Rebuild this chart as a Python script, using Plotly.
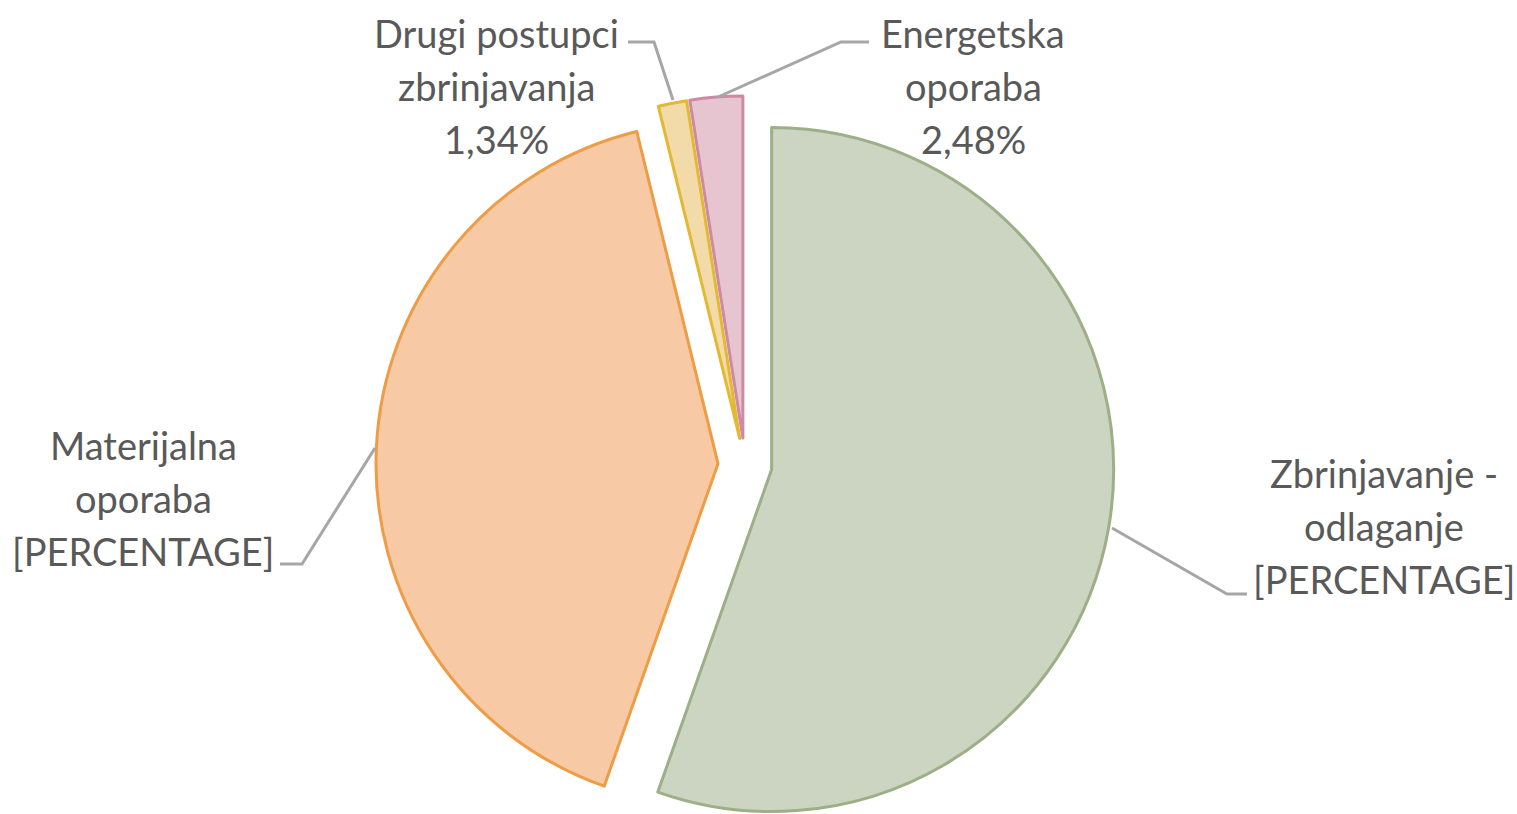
import math
import plotly.graph_objects as go

# ---- data ----
categories = ["Zbrinjavanje - odlaganje", "Materijalna oporaba",
              "Drugi postupci zbrinjavanja", "Energetska oporaba"]
shares = [55.40, 40.78, 1.34, 2.48]
name_lines = [["Zbrinjavanje -", "odlaganje"],
              ["Materijalna", "oporaba"],
              ["Drugi postupci", "zbrinjavanja"],
              ["Energetska", "oporaba"]]
value_labels = ["[PERCENTAGE]", "[PERCENTAGE]",
                f"{shares[2]:.2f}".replace(".", ",") + "%",
                f"{shares[3]:.2f}".replace(".", ",") + "%"]

# ---- style ----
fill_colors = ["#CBD5C1", "#F7CAA5", "#F2DBA8", "#E6C5D1"]
line_colors = ["#9CAF86", "#EE9C45", "#E3B832", "#CC8AA3"]
TEXT_COLOR = "#595959"
LEADER_COLOR = "#A6A6A6"
FONT = "Lato"
FONT_SIZE = 38
LINE_GAP = 53          # px between label lines

W, H = 1517, 814
CX, CY = 745, 465      # pie centre (px, from top-left)
R = 342                # radius px
PULL = 0.079           # explosion as fraction of radius

# label block centres (px, middle line) and leader-line paths (px)
label_pos = [(1384, 526), (143, 498), (497, 86), (973, 86)]
leaders = [
    [(1247, 594), (1227, 594), (1112, 528)],
    [(280, 564), (302, 564), (375, 448)],
    [(628, 42), (654, 42), (673, 100)],
    [(869, 42), (841, 42), (718, 97)],
]


def px(x, y):
    return x / W, 1 - y / H


fig = go.Figure()
total = sum(shares)
cum = 0.0
n = len(shares)
for k, v in enumerate(shares):
    mid = (cum + v / 2) / total * 2 * math.pi
    cum += v
    cx = CX + PULL * R * math.sin(mid)
    cy = CY - PULL * R * math.cos(mid)
    fig.add_trace(go.Pie(
        values=shares,
        labels=categories,
        sort=False,
        direction="clockwise",
        rotation=0,
        textinfo="none",
        showlegend=False,
        hoverinfo="label+percent",
        marker=dict(
            colors=[fill_colors[i] if i == k else "rgba(0,0,0,0)" for i in range(n)],
            line=dict(color=[line_colors[i] if i == k else "rgba(0,0,0,0)" for i in range(n)],
                      width=[3 if i == k else 0 for i in range(n)]),
        ),
        domain=dict(x=[(cx - R) / W, (cx + R) / W],
                    y=[(H - cy - R) / H, (H - cy + R) / H]),
    ))

annotations = []
for k in range(n):
    lines = name_lines[k] + [value_labels[k]]
    lx, ly = label_pos[k]
    for j, line in enumerate(lines):
        x, y = px(lx, ly + (j - 1) * LINE_GAP)
        annotations.append(dict(
            x=x, y=y, xref="paper", yref="paper", xanchor="center", yanchor="middle",
            showarrow=False, text=line,
            font=dict(family=FONT, size=FONT_SIZE, color=TEXT_COLOR),
        ))

shapes = []
for pts in leaders:
    p = [px(*q) for q in pts]
    path = "M " + " L ".join(f"{a:.5f},{b:.5f}" for a, b in p)
    shapes.append(dict(type="path", path=path, xref="paper", yref="paper",
                       line=dict(color=LEADER_COLOR, width=3)))

fig.update_layout(
    width=W, height=H,
    margin=dict(l=0, r=0, t=0, b=0),
    paper_bgcolor="white", plot_bgcolor="white",
    annotations=annotations, shapes=shapes,
)

fig.write_html("out.html", config={"displayModeBar": False},
               post_script="document.body.style.margin='0px';document.body.style.overflow='hidden';")
